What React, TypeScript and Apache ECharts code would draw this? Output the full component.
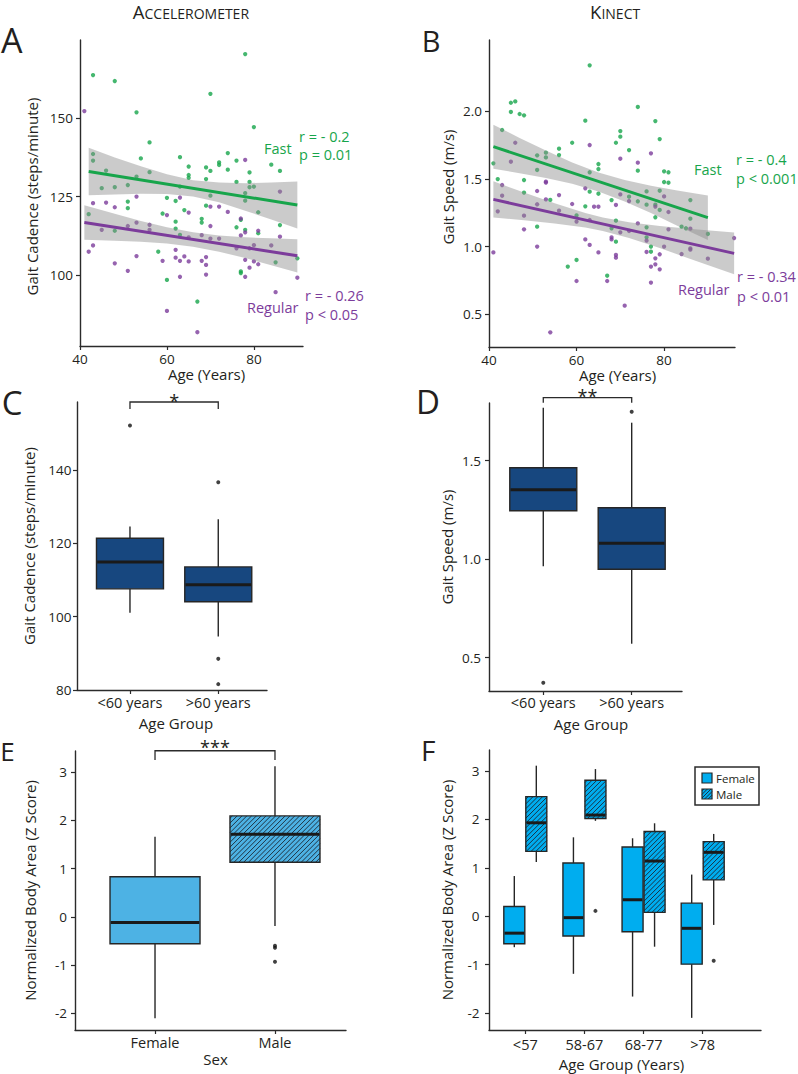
import React, { useEffect, useRef } from 'react';
import * as echarts from 'echarts';

const FONT = '"Open Sans", "DejaVu Sans", sans-serif';
const INK = '#231f20';
const AXIS_INK = '#2b2b2b';
const GREEN = '#17a54b';
const PURPLE = '#7c3c9b';
const BAND_FILL = 'rgba(140,140,140,0.45)';
const NAVY = '#17477f';
const SKY = '#4db2e4';
const CYAN = '#00adef';
const BOX_EDGE = '#262626';
const WHISKER = '#262626';
const MEDIAN = '#1a1a1a';
const HATCH = '#1b2530';

// ---------- A: accelerometer gait cadence (steps/minute) by age ----------
const cadenceFastPoints: number[][] = [
  [43, 163.8], [48, 161.9], [78, 170.5], [70, 157.8], [53, 151.9], [80, 147.2], [56, 142.3],
  [54, 137.2], [63, 137.6], [74, 138.9], [76, 136.5], [43, 138.6], [43, 136.5], [46, 133.3],
  [56, 132.8], [65, 134.6], [65, 131.9], [65, 131.0], [69, 134.3], [70, 133.2], [72, 135.9],
  [72, 135.1], [74, 133.6], [79, 132.7], [84, 135.2], [86, 133.2], [76, 129.7], [79, 129.7],
  [80, 128.2], [79, 128.0], [69, 130.6], [63, 128.2], [53, 131.4], [51, 128.7], [48, 128.0],
  [45, 127.7], [70, 125.3], [60, 124.6], [62, 123.6], [78, 126.1], [78, 123.7], [51, 123.4],
  [51, 121.3], [69, 122.1], [81, 120.0], [42, 119.4], [59, 119.6], [64, 120.7], [62, 117.0],
  [68, 117.9], [68, 116.7], [77, 117.6], [86, 115.9], [76, 115.2], [62, 114.8], [48, 114.1],
  [78, 114.4], [81, 113.3], [63, 112.8], [58, 107.4], [77, 101.1], [77, 100.6], [90, 105.3],
  [85, 104.0], [60, 98.4], [67, 91.5],
];
const cadenceRegularPoints: number[][] = [
  [41, 152.3], [78, 136.7], [86, 126.6], [43, 122.9], [46, 123.1], [48, 121.6], [53, 125.0],
  [63, 124.7], [65, 119.9], [60, 119.1], [70, 121.8], [72, 121.8], [74, 120.1], [70, 115.6],
  [77, 118.0], [81, 114.1], [86, 112.2], [78, 113.6], [77, 112.6], [45, 114.4], [53, 116.7],
  [56, 116.0], [56, 114.4], [51, 115.6], [43, 109.4], [42, 107.4], [65, 112.0], [68, 112.7],
  [70, 111.6], [72, 111.6], [84, 109.4], [79, 108.5], [80, 109.5], [76, 108.5], [53, 106.0],
  [62, 108.0], [64, 105.9], [62, 105.5], [59, 104.5], [63, 104.5], [65, 104.3], [68, 104.5],
  [69, 105.7], [69, 103.2], [78, 104.8], [80, 104.3], [81, 103.4], [79, 102.3], [48, 103.7],
  [51, 101.3], [69, 100.1], [63, 99.4], [78, 99.4], [90, 99.1], [85, 94.5], [60, 88.5], [67, 81.7],
];
const cadenceFastFit = [[42, 133.0], [90, 122.3]];
const cadenceRegularFit = [[41, 116.7], [90, 106.1]];
const cadenceFastBandAge = [42, 48, 54, 60, 66, 72, 78, 84, 90];
const cadenceFastBandLow = [125.4, 125.7, 125.9, 125.8, 125.0, 123.2, 120.5, 117.7, 114.8];
const cadenceFastBandHigh = [140.6, 137.5, 134.7, 132.1, 130.2, 129.5, 129.3, 129.5, 129.8];
const cadenceRegularBandAge = [41, 48, 54, 60, 66, 72, 78, 84, 90];
const cadenceRegularBandLow = [111.2, 110.9, 110.6, 110.0, 109.0, 107.4, 105.4, 103.1, 100.8];
const cadenceRegularBandHigh = [122.2, 119.5, 117.2, 115.2, 113.6, 112.6, 112.0, 111.7, 111.4];
const cadenceTicks = [100, 125, 150];
const ageTicks = [40, 60, 80];

// ---------- B: Kinect gait speed (m/s) by age ----------
const speedFastPoints: number[][] = [
  [41, 1.614], [63, 2.337], [45, 2.061], [46, 2.071], [45, 1.993], [47, 1.978], [48, 1.968],
  [43, 1.860], [62, 1.929], [74, 2.030], [78, 1.926], [79, 1.793], [59, 1.766], [69, 1.766],
  [70, 1.852], [70, 1.811], [72, 1.712], [56, 1.722], [56, 1.675], [53, 1.693], [53, 1.658],
  [51, 1.673], [51, 1.565], [74, 1.560], [65, 1.609], [65, 1.572], [63, 1.548], [63, 1.405],
  [80, 1.555], [81, 1.548], [80, 1.476], [81, 1.471], [42, 1.498], [48, 1.491], [48, 1.398],
  [65, 1.390], [54, 1.344], [62, 1.297], [68, 1.343], [72, 1.368], [74, 1.334], [76, 1.407],
  [79, 1.412], [78, 1.309], [76, 1.309], [79, 1.270], [86, 1.343], [51, 1.147], [78, 1.216],
  [86, 1.206], [76, 1.142], [84, 1.147], [85, 1.135], [90, 1.093], [76, 1.068], [77, 1.0],
  [77, 0.962], [69, 1.036], [69, 1.191], [68, 1.135], [60, 1.230], [58, 0.852], [60, 0.901],
  [67, 0.785],
];
const speedRegularPoints: number[][] = [
  [41, 0.957], [54, 0.367], [71, 0.564], [46, 1.766], [45, 1.626], [63, 1.749], [70, 1.648],
  [74, 1.619], [77, 1.688], [43, 1.454], [43, 1.375], [53, 1.479], [53, 1.472], [53, 1.348],
  [51, 1.410], [56, 1.380], [59, 1.314], [62, 1.430], [64, 1.294], [65, 1.294], [70, 1.385],
  [69, 1.307], [72, 1.336], [80, 1.370], [81, 1.255], [78, 1.295], [42, 1.260], [51, 1.312],
  [56, 1.265], [60, 1.184], [63, 1.196], [63, 1.012], [62, 1.053], [65, 0.957], [48, 1.228],
  [48, 1.127], [51, 1.0], [60, 0.746], [67, 0.746], [69, 0.938], [69, 0.918], [68, 1.068],
  [68, 1.053], [70, 1.105], [72, 1.115], [74, 1.171], [76, 0.960], [76, 1.044], [77, 0.852],
  [78, 0.913], [78, 0.869], [79, 0.943], [79, 0.832], [77, 0.734], [80, 1.0], [81, 1.127],
  [84, 0.945], [86, 0.987], [86, 0.977], [86, 1.132], [90, 0.911], [96, 1.063],
];
const speedFastFit = [[41, 1.737], [90, 1.213]];
const speedRegularFit = [[41, 1.348], [96, 0.95]];
const speedFastBandAge = [41, 47, 53, 59, 65, 71, 77, 83, 90];
const speedFastBandLow = [1.575, 1.541, 1.506, 1.463, 1.407, 1.333, 1.247, 1.153, 1.049];
const speedFastBandHigh = [1.899, 1.801, 1.708, 1.621, 1.547, 1.491, 1.449, 1.413, 1.377];
const speedRegularBandAge = [41, 48, 55, 62, 66, 72, 79, 87, 96];
const speedRegularBandLow = [1.214, 1.194, 1.171, 1.14, 1.115, 1.063, 0.989, 0.897, 0.796];
const speedRegularBandHigh = [1.482, 1.398, 1.319, 1.248, 1.215, 1.179, 1.152, 1.127, 1.104];
const speedTicks = [0.5, 1.0, 1.5, 2.0];

// ---------- C / D: age-group box plots ----------
const ageGroups = ['<60 years', '>60 years'];
// [min, Q1, median, Q3, max]
const cadenceBoxStats = [
  [101.1, 107.6, 114.9, 121.4, 124.6],
  [94.6, 104.1, 108.7, 113.6, 126.6],
];
const cadenceOutliers = [[1, 152.2], [2, 136.7], [2, 88.5], [2, 81.6]];
const cadenceBoxTicks = [80, 100, 120, 140];
const cadenceBracket = [1, 2, 158.6, 156.7];
const cadenceStars = '*';

const speedBoxStats = [
  [0.964, 1.246, 1.353, 1.464, 1.769],
  [0.571, 0.949, 1.081, 1.261, 1.693],
];
const speedOutliers = [[1, 0.373], [2, 1.749]];
const speedBoxTicks = [0.5, 1.0, 1.5];
const speedBracket = [1, 2, 1.82, 1.794];
const speedStars = '**';

// ---------- E: body area by sex ----------
const sexGroups = ['Female', 'Male'];
const femaleAreaStats = [-2.1, -0.56, -0.12, 0.83, 1.66];
const maleAreaStats = [-0.19, 1.13, 1.71, 2.09, 3.12];
const maleAreaOutliers = [-0.6, -0.64, -0.93];
const zTicks = [-2, -1, 0, 1, 2, 3];
const sexBracket = [1, 2, 3.44, 3.25];
const sexStars = '***';

// ---------- F: body area by sex within age bands ----------
const ageBands = ['<57', '58-67', '68-77', '>78'];
const femaleByAgeStats = [
  [-0.64, -0.57, -0.35, 0.2, 0.83],
  [-1.19, -0.41, -0.03, 1.1, 1.63],
  [-1.66, -0.32, 0.34, 1.43, 1.61],
  [-2.1, -0.99, -0.25, 0.27, 0.86],
];
const maleByAgeStats = [
  [1.12, 1.34, 1.93, 2.47, 3.11],
  [1.97, 2.02, 2.09, 2.81, 3.04],
  [-0.63, 0.08, 1.14, 1.75, 1.92],
  [-0.18, 0.75, 1.32, 1.54, 1.7],
];
const maleByAgeOutliers = [[2, 0.11], [4, -0.92]];
const legendLabels = ['Female', 'Male'];

// Diagonal "/" hatching clipped to a rectangle, in pixels.
function hatchLines(x0: number, y0: number, w: number, h: number, step: number) {
  const out: any[] = [];
  for (let c = x0 + y0 + step * 0.5; c < x0 + w + y0 + h; c += step) {
    const xa = Math.max(x0, c - (y0 + h));
    const xb = Math.min(x0 + w, c - y0);
    if (xb <= xa) continue;
    out.push({
      type: 'line',
      silent: true,
      shape: { x1: xa, y1: c - xa, x2: xb, y2: c - xb },
      style: { stroke: HATCH, lineWidth: 0.9 },
    });
  }
  return out;
}

// Confidence ribbon drawn as a single polygon through the axis scales.
function bandRenderer(ages: number[], low: number[], high: number[]) {
  return (params: any, api: any) => {
    if (params.dataIndex !== 0) return null;
    const pts: number[][] = [];
    for (let i = 0; i < ages.length; i++) pts.push(api.coord([ages[i], high[i]]));
    for (let i = ages.length - 1; i >= 0; i--) pts.push(api.coord([ages[i], low[i]]));
    return { type: 'polygon', shape: { points: pts }, style: { fill: BAND_FILL } };
  };
}

// Tukey-style box: whiskers, box, optional hatching, thick median.
function boxRenderer(width: number, offset: number, fill: string, hatched: boolean) {
  return (params: any, api: any) => {
    const x = api.value(0);
    const pMin = api.coord([x, api.value(1)]);
    const pQ1 = api.coord([x, api.value(2)]);
    const pMed = api.coord([x, api.value(3)]);
    const pQ3 = api.coord([x, api.value(4)]);
    const pMax = api.coord([x, api.value(5)]);
    const cx = pMin[0] + offset;
    const left = cx - width / 2;
    const top = pQ3[1];
    const h = pQ1[1] - pQ3[1];
    const children: any[] = [
      { type: 'line', shape: { x1: cx, y1: pMin[1], x2: cx, y2: pQ1[1] }, style: { stroke: WHISKER, lineWidth: 1.4 } },
      { type: 'line', shape: { x1: cx, y1: pQ3[1], x2: cx, y2: pMax[1] }, style: { stroke: WHISKER, lineWidth: 1.4 } },
      { type: 'rect', shape: { x: left, y: top, width, height: h }, style: { fill, stroke: 'none' } },
    ];
    if (hatched) children.push(...hatchLines(left, top, width, h, 4.8));
    children.push({ type: 'rect', shape: { x: left, y: top, width, height: h }, style: { fill: 'none', stroke: BOX_EDGE, lineWidth: 1.4 } });
    children.push({ type: 'line', shape: { x1: left + 0.7, y1: pMed[1], x2: left + width - 0.7, y2: pMed[1] }, style: { stroke: MEDIAN, lineWidth: 3 } });
    return { type: 'group', children };
  };
}

// Significance bracket with its star label.
function bracketRenderer(label: string, starGap: number) {
  return (params: any, api: any) => {
    const a = api.coord([api.value(0), api.value(2)]);
    const b = api.coord([api.value(1), api.value(2)]);
    const yt = api.coord([api.value(0), api.value(3)])[1];
    return {
      type: 'group',
      children: [
        {
          type: 'polyline',
          shape: { points: [[a[0], yt], [a[0], a[1]], [b[0], b[1]], [b[0], yt]] },
          style: { stroke: AXIS_INK, lineWidth: 1.3, fill: 'none' },
        },
        {
          type: 'text',
          style: {
            text: label, x: (a[0] + b[0]) / 2, y: a[1] - starGap + 3.5,
            align: 'center', verticalAlign: 'middle', textAlign: 'center', textVerticalAlign: 'middle',
            fontSize: 18, fontFamily: FONT, fill: INK,
          },
        },
      ],
    };
  };
}

function valueAxis(o: {
  grid: number; min: number; max: number; ticks: number[]; fmt?: (v: number) => string;
  margin: number; labelSize: number; name: string; nameGap: number; namePad?: number[];
}) {
  const axisLabel: any = {
    show: true, customValues: o.ticks, margin: o.margin,
    fontFamily: FONT, fontSize: o.labelSize, color: INK,
  };
  if (o.fmt) axisLabel.formatter = o.fmt;
  return {
    type: 'value', gridIndex: o.grid, min: o.min, max: o.max,
    name: o.name, nameLocation: 'middle', nameGap: o.nameGap,
    nameTextStyle: { fontFamily: FONT, fontSize: 15, color: INK, padding: o.namePad || [0, 0, 0, 0] },
    axisLine: { show: true, onZero: false, lineStyle: { color: AXIS_INK, width: 1.4 } },
    axisTick: { show: true, length: 4, customValues: o.ticks, lineStyle: { color: AXIS_INK, width: 1.2 } },
    axisLabel,
    splitLine: { show: false },
  };
}

const oneDecimal = (v: number) => v.toFixed(1);
const catLabel = (names: string[]) => (v: number) => names[Math.round(v) - 1] ?? '';

function text(x: number, y: number, s: string, size: number, color: string, align = 'left') {
  return {
    type: 'text', x, y, silent: true,
    style: {
      text: s, fontSize: size, fontFamily: FONT, fill: color,
      textAlign: align, textVerticalAlign: 'middle', align, verticalAlign: 'middle',
    },
  };
}

// Small-caps column heading: a large initial followed by smaller capitals on the same baseline.
function smallCaps(joinX: number, baseline: number, first: string, rest: string) {
  return [
    text(joinX, baseline - 0.388 * 18.5, first, 18.5, INK, 'right'),
    text(joinX, baseline - 0.388 * 14, rest, 14, INK, 'left'),
  ];
}

function buildOption() {
  const grids = [
    { left: 80, top: 40, width: 223, height: 306 },
    { left: 489, top: 40, width: 246, height: 307 },
    { left: 77, top: 402, width: 190, height: 288 },
    { left: 489, top: 403, width: 193, height: 288 },
    { left: 75, top: 751, width: 271, height: 279 },
    { left: 489, top: 750, width: 272, height: 280 },
  ];

  const xAxis = [
    valueAxis({ grid: 0, min: 40, max: 91.3, ticks: ageTicks, margin: 6, labelSize: 13.5, name: 'Age (Years)', nameGap: 19, namePad: [0, 0, 0, 30] }),
    valueAxis({ grid: 1, min: 40, max: 96.2, ticks: ageTicks, margin: 6, labelSize: 13.5, name: 'Age (Years)', nameGap: 18, namePad: [0, 0, 0, 11] }),
    valueAxis({ grid: 2, min: 0.4, max: 2.552, ticks: [1, 2], fmt: catLabel(ageGroups), margin: 5, labelSize: 14.5, name: 'Age Group', nameGap: 25, namePad: [0, 0, 0, 8] }),
    valueAxis({ grid: 3, min: 0.386, max: 2.569, ticks: [1, 2], fmt: catLabel(ageGroups), margin: 4, labelSize: 14.5, name: 'Age Group', nameGap: 25, namePad: [0, 0, 0, 11] }),
    valueAxis({ grid: 4, min: 0.333, max: 2.592, ticks: [1, 2], fmt: catLabel(sexGroups), margin: 4.5, labelSize: 14.5, name: 'Sex', nameGap: 21, namePad: [0, 0, 0, 10] }),
    valueAxis({ grid: 5, min: 0.386, max: 4.986, ticks: [1, 2, 3, 4], fmt: catLabel(ageBands), margin: 7, labelSize: 14.5, name: 'Age Group (Years)', nameGap: 26, namePad: [0, 7, 0, 0] }),
  ];

  const yAxis = [
    valueAxis({ grid: 0, min: 77.3, max: 175, ticks: cadenceTicks, margin: 7, labelSize: 13.5, name: 'Gait Cadence (steps/minute)', nameGap: 41, namePad: [0, 7, 0, 0] }),
    valueAxis({ grid: 1, min: 0.259, max: 2.524, ticks: speedTicks, fmt: oneDecimal, margin: 7, labelSize: 13.5, name: 'Gait Speed (m/s)', nameGap: 34, namePad: [0, 0, 0, 13] }),
    valueAxis({ grid: 2, min: 80, max: 158.6, ticks: cadenceBoxTicks, margin: 5.5, labelSize: 13.5, name: 'Gait Cadence (steps/minute)', nameGap: 41 }),
    valueAxis({ grid: 3, min: 0.331, max: 1.793, ticks: speedBoxTicks, fmt: oneDecimal, margin: 8, labelSize: 13.5, name: 'Gait Speed (m/s)', nameGap: 34.5 }),
    valueAxis({ grid: 4, min: -2.346, max: 3.435, ticks: zTicks, margin: 8, labelSize: 13.5, name: 'Normalized Body Area (Z Score)', nameGap: 37.5 }),
    valueAxis({ grid: 5, min: -2.351, max: 3.434, ticks: zTicks, margin: 9.5, labelSize: 13.5, name: 'Normalized Body Area (Z Score)', nameGap: 35 }),
  ];

  const scatter = (idx: number, data: number[][], color: string) => ({
    type: 'scatter', xAxisIndex: idx, yAxisIndex: idx, data, symbolSize: 4.3,
    itemStyle: { color }, z: 2, silent: true,
  });
  const fit = (idx: number, data: number[][], color: string) => ({
    type: 'line', xAxisIndex: idx, yAxisIndex: idx, data, showSymbol: false, symbol: 'none',
    lineStyle: { color, width: 3 }, z: 4, silent: true,
  });
  const band = (idx: number, ages: number[], low: number[], high: number[]) => ({
    type: 'custom', xAxisIndex: idx, yAxisIndex: idx,
    data: ages.map((a, i) => [a, low[i], high[i]]),
    encode: { x: 0, y: [1, 2] },
    renderItem: bandRenderer(ages, low, high), z: 3, silent: true,
  });
  const boxes = (idx: number, data: number[][], width: number, offset: number, fill: string, hatched: boolean) => ({
    type: 'custom', xAxisIndex: idx, yAxisIndex: idx, data,
    encode: { x: 0, y: [1, 2, 3, 4, 5] },
    renderItem: boxRenderer(width, offset, fill, hatched), z: 3, silent: true,
  });
  const outliers = (idx: number, data: number[][], offset = 0) => ({
    type: 'scatter', xAxisIndex: idx, yAxisIndex: idx, data, symbolSize: 4,
    symbolOffset: [offset, 0], itemStyle: { color: '#111' }, z: 5, silent: true,
  });
  const bracket = (idx: number, row: number[], label: string, gap: number) => ({
    type: 'custom', xAxisIndex: idx, yAxisIndex: idx, data: [row],
    encode: { x: [0, 1], y: [2, 3] },
    renderItem: bracketRenderer(label, gap), z: 5, silent: true,
  });

  const series = [
    scatter(0, cadenceFastPoints, GREEN),
    scatter(0, cadenceRegularPoints, PURPLE),
    band(0, cadenceFastBandAge, cadenceFastBandLow, cadenceFastBandHigh),
    band(0, cadenceRegularBandAge, cadenceRegularBandLow, cadenceRegularBandHigh),
    fit(0, cadenceFastFit, GREEN),
    fit(0, cadenceRegularFit, PURPLE),

    scatter(1, speedFastPoints, GREEN),
    scatter(1, speedRegularPoints, PURPLE),
    band(1, speedFastBandAge, speedFastBandLow, speedFastBandHigh),
    band(1, speedRegularBandAge, speedRegularBandLow, speedRegularBandHigh),
    fit(1, speedFastFit, GREEN),
    fit(1, speedRegularFit, PURPLE),

    boxes(2, cadenceBoxStats.map((s, i) => [i + 1, ...s]), 67, 0, NAVY, false),
    outliers(2, cadenceOutliers),
    bracket(2, cadenceBracket, cadenceStars, 4.5),

    boxes(3, speedBoxStats.map((s, i) => [i + 1, ...s]), 67, 0, NAVY, false),
    outliers(3, speedOutliers),
    bracket(3, speedBracket, speedStars, 5.5),

    boxes(4, [[1, ...femaleAreaStats]], 90, 0, SKY, false),
    boxes(4, [[2, ...maleAreaStats]], 90, 0, SKY, true),
    outliers(4, maleAreaOutliers.map((v) => [2, v])),
    bracket(4, sexBracket, sexStars, 7.5),

    boxes(5, femaleByAgeStats.map((s, i) => [i + 1, ...s]), 21, -11, CYAN, false),
    boxes(5, maleByAgeStats.map((s, i) => [i + 1, ...s]), 21, 11, CYAN, true),
    outliers(5, maleByAgeOutliers, 11),
  ];

  const graphic: any[] = [
    // column titles
    ...smallCaps(144.5, 19, 'A', 'CCELEROMETER'),
    ...smallCaps(601.4, 19, 'K', 'INECT'),
    // panel letters
    text(11.7, 40, 'A', 34, INK, 'center'),
    text(431, 40, 'B', 29, INK, 'center'),
    text(12.2, 402, 'C', 33, INK, 'center'),
    text(428, 401, 'D', 33, INK, 'center'),
    text(7.5, 751, 'E', 26, INK, 'center'),
    text(428.3, 750, 'F', 28, INK, 'center'),
    // fit annotations, panel A
    text(264, 148, 'Fast', 14.5, GREEN),
    text(299, 136, 'r = - 0.2', 14.5, GREEN),
    text(299, 154.5, 'p = 0.01', 14.5, GREEN),
    text(247, 307, 'Regular', 14.5, PURPLE),
    text(305, 295, 'r = - 0.26', 14.5, PURPLE),
    text(305, 314.5, 'p < 0.05', 14.5, PURPLE),
    // fit annotations, panel B
    text(694, 169.5, 'Fast', 14.5, GREEN),
    text(736, 159.5, 'r = - 0.4', 14.5, GREEN),
    text(736, 178.5, 'p < 0.001', 14.5, GREEN),
    text(678, 289, 'Regular', 14.5, PURPLE),
    text(737, 276, 'r = - 0.34', 14.5, PURPLE),
    text(737, 296, 'p < 0.01', 14.5, PURPLE),
    // legend, panel F
    { type: 'rect', silent: true, shape: { x: 695, y: 767, width: 64, height: 38 }, style: { fill: '#fff', stroke: AXIS_INK, lineWidth: 1.5 } },
    { type: 'rect', silent: true, shape: { x: 702, y: 773, width: 10, height: 10 }, style: { fill: CYAN, stroke: BOX_EDGE, lineWidth: 1.2 } },
    { type: 'rect', silent: true, shape: { x: 702, y: 789, width: 10, height: 10 }, style: { fill: CYAN, stroke: 'none' } },
    ...hatchLines(702, 789, 10, 10, 3.6),
    { type: 'rect', silent: true, shape: { x: 702, y: 789, width: 10, height: 10 }, style: { fill: 'none', stroke: BOX_EDGE, lineWidth: 1.2 } },
    text(716, 778, legendLabels[0], 11.5, INK),
    text(716, 794.5, legendLabels[1], 11.5, INK),
  ];

  return {
    animation: false,
    backgroundColor: '#ffffff',
    textStyle: { fontFamily: FONT },
    grid: grids.map((g) => ({ ...g, containLabel: false })),
    xAxis,
    yAxis,
    series,
    graphic,
  };
}

export default function App() {
  const ref = useRef<HTMLDivElement>(null);
  useEffect(() => {
    if (!ref.current) return;
    const chart = echarts.init(ref.current, null, { renderer: 'svg' });
    chart.setOption(buildOption() as any);
    return () => chart.dispose();
  }, []);
  return (
    <div
      ref={ref}
      style={{ position: 'absolute', left: 0, top: 0, width: 798, height: 1074, background: '#fff' }}
    />
  );
}
